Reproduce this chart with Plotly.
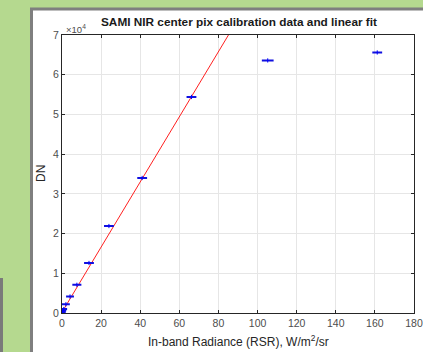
import plotly.graph_objects as go

# Calibration data
radiance = [0.1, 0.25, 0.5, 0.9, 2.0, 4.1, 7.6, 13.8, 24.0, 41.0, 66.2, 105.2, 161.2]
dn = [150, 400, 700, 1000, 2200, 4150, 7100, 12600, 21900, 34000, 54400, 63600, 65600]
radiance_err = [1.2, 1.2, 1.2, 1.2, 1.5, 1.5, 1.8, 2.0, 2.0, 2.0, 2.0, 2.5, 2.0]

# Linear fit end points
fit_x = [0, 90]
fit_y = [200, 74000]

x_ticks = [0, 20, 40, 60, 80, 100, 120, 140, 160, 180]
y_ticks = [0, 10000, 20000, 30000, 40000, 50000, 60000, 70000]
y_tick_text = ["0", "1", "2", "3", "4", "5", "6", "7"]

W, H = 423, 352
L, R, T, B = 62, 9, 35, 39
pw, ph = W - L - R, H - T - B

def px(xp):
    return (xp - L) / pw

def py(yp):
    return (H - B - yp) / ph

font = "Liberation Sans, Arial, sans-serif"

fig = go.Figure()
fig.add_trace(go.Scatter(
    x=fit_x, y=fit_y, mode="lines",
    line=dict(color="#ff2020", width=1),
    showlegend=False, hoverinfo="skip"))
fig.add_trace(go.Scatter(
    x=radiance, y=dn, mode="markers",
    marker=dict(color="#0000ff", size=3, symbol="line-ns", line=dict(color="#0000ff", width=1)),
    error_x=dict(type="data", array=radiance_err, color="#1010e0", thickness=2, width=1),
    showlegend=False))

shapes = [
    dict(type="rect", xref="paper", yref="paper", layer="below",
         x0=px(31.5), x1=px(440), y0=py(9), y1=py(370),
         fillcolor="white", line=dict(color="#7f7f7f", width=3)),
    dict(type="rect", xref="paper", yref="paper", layer="below",
         x0=px(-5), x1=px(3), y0=py(278), y1=py(370),
         fillcolor="#7a7a7a", line=dict(width=0)),
]

axis_common = dict(
    showline=True, linecolor="#262626", linewidth=1, mirror="ticks",
    ticks="inside", ticklen=3, tickcolor="#262626", automargin=False,
    showgrid=True, gridcolor="#e6e6e6", gridwidth=1, zeroline=False,
    tickfont=dict(family=font, size=10.5, color="#4d4d4d"),
)

fig.update_layout(
    width=W, height=H,
    margin=dict(l=L, r=R, t=T, b=B, pad=0, autoexpand=False),
    paper_bgcolor="#b5d98f", plot_bgcolor="white",
    shapes=shapes,
    xaxis=dict(range=[0, 180], tickvals=x_ticks, **axis_common),
    yaxis=dict(range=[0, 70000], tickvals=y_ticks, ticktext=y_tick_text, **axis_common),
    annotations=[
        dict(text="<b>SAMI NIR center pix calibration data and linear fit</b>",
             xref="paper", yref="paper", x=px(239), y=py(22), showarrow=False,
             font=dict(family=font, size=11.8, color="#1a1a1a"), xanchor="center", yanchor="middle"),
        dict(text="×10<sup>4</sup>", xref="paper", yref="paper", x=px(64), y=py(29),
             showarrow=False, xanchor="left", yanchor="middle",
             font=dict(family=font, size=9.5, color="#4d4d4d")),
        dict(text="DN", xref="paper", yref="paper", x=px(41), y=0.5, textangle=-90,
             showarrow=False, xanchor="center", yanchor="middle",
             font=dict(family=font, size=12, color="#262626")),
        dict(text="In-band Radiance (RSR), W/m<sup>2</sup>/sr", xref="paper", yref="paper",
             x=0.5, y=py(341), showarrow=False, xanchor="center", yanchor="middle",
             font=dict(family=font, size=12, color="#262626")),
    ],
)

fig.write_html("out.html")
